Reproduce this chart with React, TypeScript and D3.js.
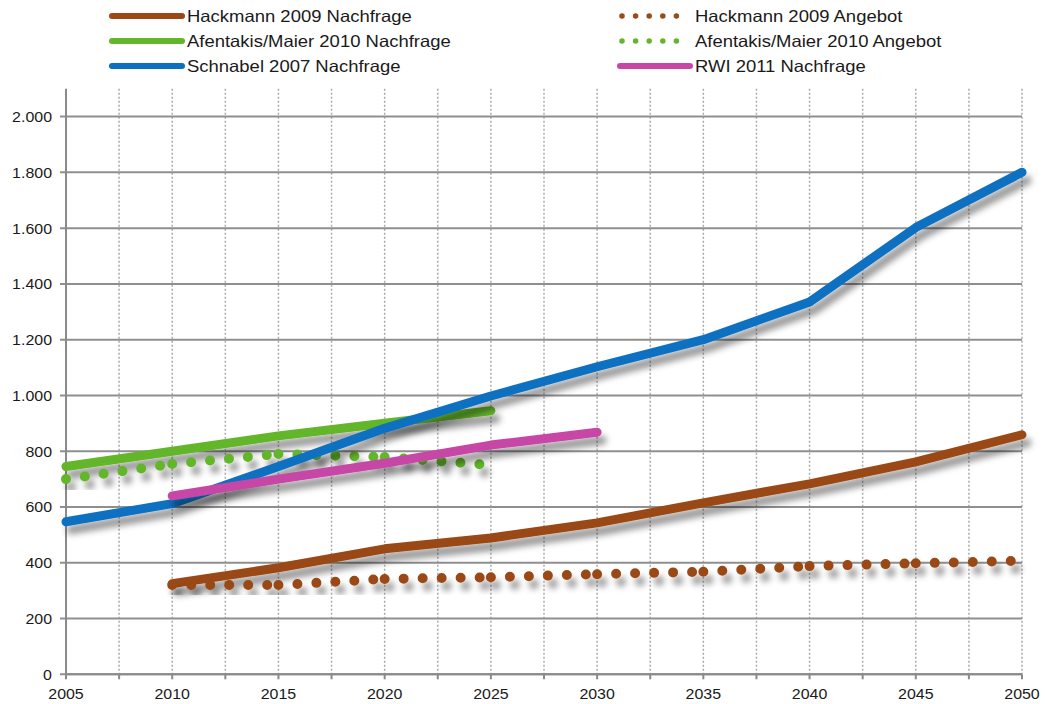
import { useEffect } from "react";
import * as d3 from "d3";

// Jahre (Stützstellen alle 5 Jahre)
const years = [2005, 2010, 2015, 2020, 2025, 2030, 2035, 2040, 2045, 2050];

// Werte je Studie (null = kein Wert)
const hackmannNachfrage = [null, 325, 382, 450, 489, 543, 615, 683, 762, 859];
const hackmannAngebot = [null, 320, 320, 342, 348, 359, 368, 388, 398, 407];
const afentakisNachfrage = [745, 800, 855, 900, 945, null, null, null, null, null];
const afentakisAngebot = [700, 754, 790, 779, 750, null, null, null, null, null];
const schnabelNachfrage = [547, 612, 745, 882, 998, 1103, 1200, 1335, 1602, 1800];
const rwiNachfrage = [null, 640, 700, 757, 822, 868, null, null, null, null];

const yTicks = [0, 200, 400, 600, 800, 1000, 1200, 1400, 1600, 1800, 2000];
const xTicks = [2005, 2010, 2015, 2020, 2025, 2030, 2035, 2040, 2045, 2050];

interface Series {
  name: string;
  values: (number | null)[];
  color: string;
  dotted: boolean;
}

const series: Series[] = [
  { name: "Hackmann 2009 Nachfrage", values: hackmannNachfrage, color: "#9a4a14", dotted: false },
  { name: "Hackmann 2009 Angebot", values: hackmannAngebot, color: "#9a4a14", dotted: true },
  { name: "Afentakis/Maier 2010 Nachfrage", values: afentakisNachfrage, color: "#63b52b", dotted: false },
  { name: "Afentakis/Maier 2010 Angebot", values: afentakisAngebot, color: "#63b52b", dotted: true },
  { name: "Schnabel 2007 Nachfrage", values: schnabelNachfrage, color: "#0b70c0", dotted: false },
  { name: "RWI 2011 Nachfrage", values: rwiNachfrage, color: "#c647a6", dotted: false },
];

const de = d3.formatLocale({ decimal: ",", thousands: ".", grouping: [3], currency: ["", " €"] });
const fmt = de.format(",d");

const W = 1045;
const H = 704;
const FONT = "'Liberation Sans', Arial, sans-serif";

export default function App() {
  useEffect(() => {
    document.body.style.margin = "0";
  }, []);

  const x = d3.scaleLinear().domain([2005, 2050]).range([66, 1022]);
  const y = d3.scaleLinear().domain([0, 2100]).range([674.3, 88.7]);

  const line = d3
    .line<[number, number | null]>()
    .defined((d) => d[1] != null)
    .x((d) => x(d[0]))
    .y((d) => y(d[1] as number));

  const minor = d3.range(2005, 2050.01, 2.5);

  // gepunktete Reihen: jedes Segment einzeln, damit das Muster an jedem Punkt neu beginnt
  const segments = (vals: (number | null)[]) => {
    const out: string[] = [];
    for (let i = 0; i < vals.length - 1; i++) {
      if (vals[i] == null || vals[i + 1] == null) continue;
      out.push(
        line([
          [years[i], vals[i]],
          [years[i + 1], vals[i + 1]],
        ]) || ""
      );
    }
    return out;
  };

  const legendPos = [
    { lx: 112, ly: 16 },
    { lx: 620, ly: 16 },
    { lx: 112, ly: 41 },
    { lx: 620, ly: 41 },
    { lx: 112, ly: 66 },
    { lx: 620, ly: 66 },
  ];

  return (
    <svg width={W} height={H} style={{ display: "block", background: "#fff" }} fontFamily={FONT}>
      <defs>
        <filter id="shadow" x="-10%" y="-20%" width="130%" height="160%">
          <feDropShadow dx="5" dy="8" stdDeviation="3.2" floodColor="#000" floodOpacity="0.4" />
        </filter>
      </defs>

      {/* vertikale Gitterlinien */}
      {minor.slice(1).map((t) => (
        <line
          key={"vg" + t}
          x1={x(t)}
          x2={x(t)}
          y1={y(2100)}
          y2={y(0)}
          stroke="#ababab"
          strokeWidth={1.5}
          strokeDasharray="2 2"
        />
      ))}

      {/* horizontale Gitterlinien */}
      {yTicks.map((t) => (
        <g key={"hg" + t}>
          <line x1={60} x2={x(2050)} y1={y(t)} y2={y(t)} stroke="#8f8f8f" strokeWidth={2} />
          <text
            transform={`translate(52,${y(t) + 5.5}) scale(1.1,1)`}
            textAnchor="end"
            fontSize={14.5}
            fill="#1a1a1a"
          >
            {fmt(t)}
          </text>
        </g>
      ))}

      {/* Achsen */}
      <line x1={66} x2={66} y1={y(2100)} y2={y(0)} stroke="#8a8a8a" strokeWidth={2} />
      <line x1={66} x2={x(2050)} y1={y(0)} y2={y(0)} stroke="#8a8a8a" strokeWidth={2} />
      {minor.map((t) => (
        <line key={"xt" + t} x1={x(t)} x2={x(t)} y1={y(0)} y2={y(0) + 5} stroke="#8a8a8a" strokeWidth={2} />
      ))}
      {xTicks.map((t) => (
        <text
          key={"xl" + t}
          transform={`translate(${x(t)},699) scale(1.1,1)`}
          textAnchor="middle"
          fontSize={14.5}
          fill="#1a1a1a"
        >
          {t}
        </text>
      ))}

      {/* Datenreihen */}
      {series.map((s) => (
        <g key={s.name} filter="url(#shadow)">
          {s.dotted ? (
            segments(s.values).map((d, i) => (
              <path
                key={i}
                d={d}
                fill="none"
                stroke={s.color}
                strokeWidth={10}
                strokeLinecap="round"
                strokeDasharray="0 19"
              />
            ))
          ) : (
            <path
              d={line(years.map((yr, i) => [yr, s.values[i]])) || ""}
              fill="none"
              stroke={s.color}
              strokeWidth={9}
              strokeLinecap="round"
              strokeLinejoin="round"
            />
          )}
        </g>
      ))}

      {/* Legende */}
      {series.map((s, i) => {
        const { lx, ly } = legendPos[i];
        return (
          <g key={"lg" + s.name}>
            {s.dotted ? (
              <line
                x1={lx + 2}
                x2={lx + 70}
                y1={ly}
                y2={ly}
                stroke={s.color}
                strokeWidth={5.5}
                strokeLinecap="round"
                strokeDasharray="0 13.6"
              />
            ) : (
              <line
                x1={lx}
                x2={lx + 70}
                y1={ly}
                y2={ly}
                stroke={s.color}
                strokeWidth={6}
                strokeLinecap="round"
              />
            )}
            <text
              transform={`translate(${lx + 75},${ly + 6}) scale(1.12,1)`}
              fontSize={16.5}
              fill="#1a1a1a"
            >
              {s.name}
            </text>
          </g>
        );
      })}
    </svg>
  );
}
